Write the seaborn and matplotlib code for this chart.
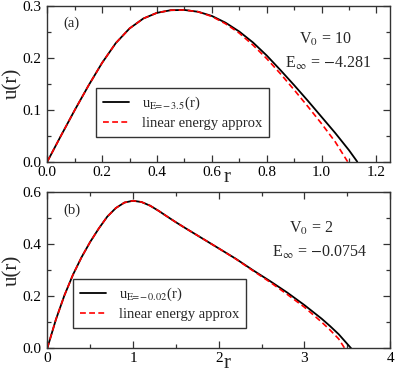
import numpy as np
import pandas as pd
import matplotlib
matplotlib.use('Agg')
import matplotlib.pyplot as plt
import seaborn as sns

# panel (a): V0 = 10
r_a = [0, 0.05, 0.1, 0.15, 0.2, 0.25, 0.3, 0.35, 0.4, 0.45, 0.5, 0.55, 0.6,
       0.65, 0.7, 0.75, 0.8, 0.85, 0.9, 0.95, 1.0, 1.05, 1.1, 1.13]
u_a = [0, 0.050, 0.099, 0.146, 0.190, 0.228, 0.256, 0.275, 0.286, 0.291, 0.2915,
       0.288, 0.280, 0.267, 0.250, 0.229, 0.204, 0.176, 0.147, 0.117, 0.086, 0.055,
       0.022, 0]
r_a_lin = [0, 0.05, 0.1, 0.15, 0.2, 0.25, 0.3, 0.35, 0.4, 0.45, 0.5, 0.55, 0.6,
           0.65, 0.7, 0.75, 0.8, 0.85, 0.9, 0.95, 1.0, 1.05, 1.095]
u_a_lin = [0, 0.050, 0.099, 0.146, 0.190, 0.228, 0.256, 0.275, 0.286, 0.291, 0.2915,
           0.288, 0.279, 0.265, 0.247, 0.224, 0.198, 0.169, 0.138, 0.106, 0.073, 0.038, 0]

# panel (b): V0 = 2
r_b = [0, 0.1, 0.2, 0.3, 0.4, 0.5, 0.6, 0.7, 0.8, 0.9, 1.0, 1.1, 1.2, 1.3, 1.4,
       1.5, 1.6, 1.8, 2.0, 2.2, 2.4, 2.6, 2.8, 3.0, 3.2, 3.3, 3.4, 3.545]
u_b = [0, 0.110, 0.2035, 0.283, 0.350, 0.4085, 0.460, 0.506, 0.539, 0.560, 0.567,
       0.562, 0.548, 0.528, 0.506, 0.4845, 0.464, 0.424, 0.384, 0.344, 0.300, 0.258,
       0.214, 0.166, 0.114, 0.085, 0.054, 0]
r_b_lin = [0, 0.1, 0.2, 0.3, 0.4, 0.5, 0.6, 0.7, 0.8, 0.9, 1.0, 1.1, 1.2, 1.3, 1.4,
           1.5, 1.6, 1.8, 2.0, 2.2, 2.4, 2.6, 2.8, 3.0, 3.2, 3.3, 3.4, 3.47]
u_b_lin = [0, 0.110, 0.2035, 0.283, 0.350, 0.4085, 0.460, 0.506, 0.539, 0.560, 0.567,
           0.562, 0.548, 0.528, 0.506, 0.4845, 0.464, 0.424, 0.384, 0.343, 0.298, 0.254,
           0.207, 0.158, 0.101, 0.070, 0.036, 0]

sns.set_style('ticks')
plt.rcParams['font.family'] = ['Liberation Serif', 'DejaVu Serif']
plt.rcParams['mathtext.fontset'] = 'stix'
plt.rcParams['axes.linewidth'] = 1.0
plt.rcParams['axes.edgecolor'] = '#333333'

fig = plt.figure(figsize=(3.95, 3.79), dpi=100)
ax1 = fig.add_axes([0.1197, 0.5734, 0.868, 0.412])
ax2 = fig.add_axes([0.1197, 0.081, 0.868, 0.412])

def draw(ax, r, u, r2, u2, lab):
    sns.lineplot(x=r, y=u, ax=ax, color='black', lw=1.3, label=lab, sort=False)
    sns.lineplot(x=r2, y=u2, ax=ax, color='red', lw=1.2, sort=False,
                 label='linear energy approx', linestyle=(0, (3.5, 2)))

draw(ax1, r_a, u_a, r_a_lin, u_a_lin, r'u$_{\mathrm{E}\!\!=\!\!-\mathrm{3.5}}$(r)')
draw(ax2, r_b, u_b, r_b_lin, u_b_lin, r'u$_{\mathrm{E}\!\!=\!\!-\mathrm{0.02}}$(r)')

ax1.set_xlim(0, 1.25)
ax1.set_ylim(0, 0.3)
ax1.set_xticks([0, 0.2, 0.4, 0.6, 0.8, 1.0, 1.2])
ax1.set_xticklabels(['0.0', '0.2', '0.4', '0.6', '0.8', '1.0', '1.2'])
ax1.set_xticks(np.arange(0.1, 1.25, 0.2), minor=True)
ax1.set_yticks([0, 0.1, 0.2, 0.3])
ax1.set_yticklabels(['0.0', '0.1', '0.2', '0.3'])
ax1.set_yticks([0.05, 0.15, 0.25], minor=True)

ax2.set_xlim(0, 4)
ax2.set_ylim(0, 0.6)
ax2.set_xticks([0, 1, 2, 3, 4])
ax2.set_xticks([0.5, 1.5, 2.5, 3.5], minor=True)
ax2.set_yticks([0, 0.2, 0.4, 0.6])
ax2.set_yticklabels(['0.0', '0.2', '0.4', '0.6'])
ax2.set_yticks([0.1, 0.3, 0.5], minor=True)

for ax in (ax1, ax2):
    ax.tick_params(which='both', direction='in', top=True, right=True,
                   labelsize=11, colors='#333333', labelcolor='black')
    ax.tick_params(axis='x', pad=3)
    ax.tick_params(axis='y', pad=4)
    ax.tick_params(which='major', length=5, width=0.9)
    ax.tick_params(which='minor', length=3, width=0.9)
    ax.set_ylabel('u(r)', fontsize=15, va='center')
    ax.yaxis.set_label_coords(-0.1, 0.5)
    ax.set_xlabel('r', fontsize=15, va='center')
    ax.xaxis.set_label_coords(0.524, -0.1)

leg_kw = dict(loc='lower left', borderaxespad=0, fontsize=10.5, frameon=True,
              fancybox=False, edgecolor='#333333', framealpha=1, handlelength=1.8,
              handletextpad=0.9, borderpad=0.45, labelspacing=0.35)
ax1.legend(bbox_to_anchor=(0.142, 0.158), **leg_kw)
ax2.legend(bbox_to_anchor=(0.075, 0.13), **leg_kw)

ax1.text(0.047, 0.889, '(a)', transform=ax1.transAxes, fontsize=10.5, va='center')
ax1.text(0.81, 0.78, r'V$_0$ = 10', transform=ax1.transAxes, fontsize=11.5,
         ha='center', va='center')
ax1.text(0.82, 0.63, r'E$_\infty$ = $-$4.281', transform=ax1.transAxes, fontsize=11.5,
         ha='center', va='center')
ax2.text(0.047, 0.886, '(b)', transform=ax2.transAxes, fontsize=10.5, va='center')
ax2.text(0.77, 0.77, r'V$_0$ = 2', transform=ax2.transAxes, fontsize=11.5,
         ha='center', va='center')
ax2.text(0.795, 0.615, r'E$_\infty$ = $-$0.0754', transform=ax2.transAxes, fontsize=11.5,
         ha='center', va='center')

fig.savefig('out.png', dpi=100)
